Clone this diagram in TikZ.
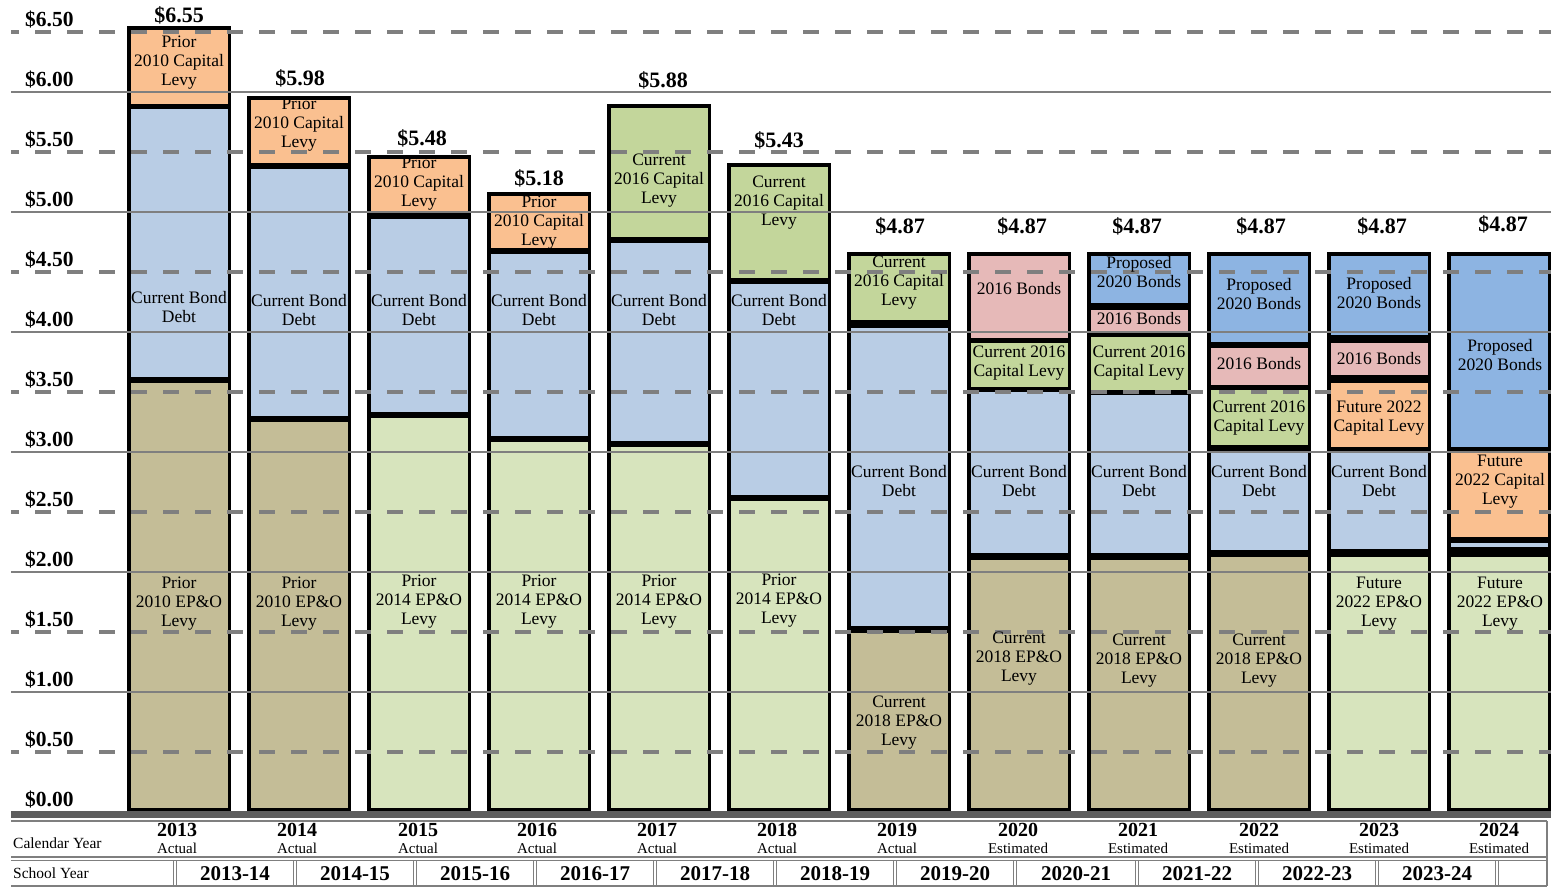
\documentclass[tikz,border=0pt]{standalone}
\usepackage{fontspec}
\setmainfont{Liberation Serif}
\definecolor{cOrange}{HTML}{FAC090}
\definecolor{cBlue}{HTML}{B9CDE5}
\definecolor{cTan}{HTML}{C4BD97}
\definecolor{cLGreen}{HTML}{D7E4BD}
\definecolor{cGreen}{HTML}{C3D69B}
\definecolor{cPink}{HTML}{E6B9B8}
\definecolor{cProp}{HTML}{8DB4E2}
\definecolor{cGrid}{HTML}{7F7F7F}
\definecolor{cBand}{HTML}{5E5E5E}
\tikzset{
  blab/.style={font=\fontsize{17.5}{19}\selectfont, align=center, inner sep=0pt},
  vlab/.style={font=\bfseries\fontsize{22}{24}\selectfont, anchor=base, inner sep=0pt},
  alab/.style={font=\bfseries\fontsize{21.5}{24}\selectfont, anchor=base west, inner sep=0pt},
  ylab/.style={font=\bfseries\fontsize{20}{24}\selectfont, anchor=base, inner sep=0pt},
  sylab/.style={font=\bfseries\fontsize{21}{24}\selectfont, anchor=base, inner sep=0pt},
  slab/.style={font=\fontsize{15}{18}\selectfont, anchor=base, inner sep=0pt},
  rlab/.style={font=\fontsize{15.5}{18}\selectfont, anchor=base west, inner sep=0pt},
  gridsolid/.style={draw=cGrid, line width=2.5pt},
  griddash/.style={draw=cGrid, line width=3.5pt, dash pattern=on 16pt off 16pt, dash phase=8pt},
  tline/.style={draw=cGrid, line width=1.3pt}
}
% segment fill: left, top, bottom, colour
\newcommand\sg[4]{\fill[#4] ({#1+1.75},#2) rectangle ({#1+102.25},#3);}
% divider: left, y, thickness
\newcommand\dv[3]{\fill[black] ({#1+1.75},{#2-#3/2}) rectangle ({#1+102.25},{#2+#3/2});}
% frame: left, top
\newcommand\fr[2]{\draw[line width=3.5pt] ({#1+1.75},{#2+1.75}) rectangle ({#1+102.25},809.5);}
% bar label: name, position, text
\newcommand\bl[3]{\node[blab] (#1) at #2 {\strut #3\strut};}
\begin{document}
\begin{tikzpicture}[x=1pt,y=-1pt]
\useasboundingbox (0,0) rectangle (1551,887);
\fill[white] (0,0) rectangle (1551,887);

% ---------- bars ----------
% bar 1
\sg{127}{26}{106}{cOrange}\sg{127}{106}{380}{cBlue}\sg{127}{380}{811}{cTan}
\dv{127}{106}{5}\dv{127}{380}{6}\fr{127}{26}
% bar 2
\sg{247}{96}{165}{cOrange}\sg{247}{165}{419}{cBlue}\sg{247}{419}{811}{cTan}
\dv{247}{165.5}{6}\dv{247}{419}{6}\fr{247}{96}
% bar 3
\sg{367}{155}{215}{cOrange}\sg{367}{215}{415}{cBlue}\sg{367}{415}{811}{cLGreen}
\dv{367}{215.5}{6}\dv{367}{415}{6}\fr{367}{155}
% bar 4
\sg{487}{192}{251}{cOrange}\sg{487}{251}{439}{cBlue}\sg{487}{439}{811}{cLGreen}
\dv{487}{251}{6}\dv{487}{439}{6}\fr{487}{192}
% bar 5
\sg{607}{104}{240}{cGreen}\sg{607}{240}{444}{cBlue}\sg{607}{444}{811}{cLGreen}
\dv{607}{240}{6}\dv{607}{444}{6}\fr{607}{104}
% bar 6
\sg{727}{163}{280}{cGreen}\sg{727}{280}{498}{cBlue}\sg{727}{498}{811}{cLGreen}
\dv{727}{280.5}{6}\dv{727}{498}{6}\fr{727}{163}
% bar 7
\sg{847}{252}{324}{cGreen}\sg{847}{324}{630}{cBlue}\sg{847}{630}{811}{cTan}
\dv{847}{324}{8}\dv{847}{629.5}{7}\fr{847}{252}
% bar 8
\sg{967}{252}{340}{cPink}\sg{967}{340}{390}{cGreen}\sg{967}{390}{556}{cBlue}\sg{967}{556}{811}{cTan}
\dv{967}{340}{5}\dv{967}{389.5}{5}\dv{967}{556.5}{7}\fr{967}{252}
% bar 9
\sg{1087}{252}{307}{cProp}\sg{1087}{307}{334}{cPink}\sg{1087}{334}{392}{cGreen}\sg{1087}{392}{556}{cBlue}\sg{1087}{556}{811}{cTan}
\dv{1087}{306.5}{7}\dv{1087}{334.5}{5}\dv{1087}{392}{5}\dv{1087}{556.5}{7}\fr{1087}{252}
% bar 10
\sg{1207}{252}{345}{cProp}\sg{1207}{345}{388}{cPink}\sg{1207}{388}{448}{cGreen}\sg{1207}{448}{553}{cBlue}\sg{1207}{553}{811}{cTan}
\dv{1207}{345}{6}\dv{1207}{387.5}{5}\dv{1207}{448.5}{7}\dv{1207}{553.5}{7}\fr{1207}{252}
% bar 11
\sg{1327}{252}{339}{cProp}\sg{1327}{339}{379}{cPink}\sg{1327}{379}{450}{cOrange}\sg{1327}{450}{553}{cBlue}\sg{1327}{553}{811}{cLGreen}
\dv{1327}{339}{8}\dv{1327}{379}{8}\dv{1327}{449.5}{5}\dv{1327}{553}{8}\fr{1327}{252}
% bar 12
\sg{1447}{252}{450}{cProp}\sg{1447}{450}{540}{cOrange}\sg{1447}{540}{552}{cBlue}\sg{1447}{552}{811}{cLGreen}
\dv{1447}{449.5}{5}\dv{1447}{540}{6}\dv{1447}{552}{10}\fr{1447}{252}

% ---------- grid ----------
\foreach \g in {92,212,332,452,572,692}{\draw[gridsolid] (11,\g) -- (1551,\g);}
\foreach \g in {32,152,272,392,512,632,752}{\draw[griddash] (11,\g) -- (1551,\g);}

% ---------- axis labels ----------
\node[alab] (a650) at (25,26) {\$6.50};
\node[alab] (a600) at (25,86) {\$6.00};
\node[alab] (a550) at (25,146) {\$5.50};
\node[alab] (a500) at (25,206) {\$5.00};
\node[alab] (a450) at (25,266) {\$4.50};
\node[alab] (a400) at (25,326) {\$4.00};
\node[alab] (a350) at (25,386) {\$3.50};
\node[alab] (a300) at (25,446) {\$3.00};
\node[alab] (a250) at (25,506) {\$2.50};
\node[alab] (a200) at (25,566) {\$2.00};
\node[alab] (a150) at (25,626) {\$1.50};
\node[alab] (a100) at (25,686) {\$1.00};
\node[alab] (a050) at (25,746) {\$0.50};
\node[alab] (a000) at (25,806) {\$0.00};

% ---------- value labels ----------
\node[vlab] (v1) at (179,22) {\$6.55};
\node[vlab] (v2) at (300,85) {\$5.98};
\node[vlab] (v3) at (422,145) {\$5.48};
\node[vlab] (v4) at (539,185) {\$5.18};
\node[vlab] (v5) at (663,87) {\$5.88};
\node[vlab] (v6) at (779,147) {\$5.43};
\node[vlab] (v7) at (900,233) {\$4.87};
\node[vlab] (v8) at (1022,233) {\$4.87};
\node[vlab] (v9) at (1137,233) {\$4.87};
\node[vlab] (v10) at (1261,233) {\$4.87};
\node[vlab] (v11) at (1382,233) {\$4.87};
\node[vlab] (v12) at (1503,231) {\$4.87};

% ---------- bar labels ----------
\bl{b1c}{(179,63)}{Prior\\2010 Capital\\Levy}
\bl{b1d}{(179,309)}{Current Bond\\Debt}
\bl{b1e}{(179,604)}{Prior\\2010 EP\&O\\Levy}
\bl{b2c}{(299,125)}{Prior\\2010 Capital\\Levy}
\bl{b2d}{(299,312)}{Current Bond\\Debt}
\bl{b2e}{(299,604)}{Prior\\2010 EP\&O\\Levy}
\bl{b3c}{(419,184)}{Prior\\2010 Capital\\Levy}
\bl{b3d}{(419,312)}{Current Bond\\Debt}
\bl{b3e}{(419,602)}{Prior\\2014 EP\&O\\Levy}
\bl{b4c}{(539,223)}{Prior\\2010 Capital\\Levy}
\bl{b4d}{(539,312)}{Current Bond\\Debt}
\bl{b4e}{(539,602)}{Prior\\2014 EP\&O\\Levy}
\bl{b5c}{(659,181)}{Current\\2016 Capital\\Levy}
\bl{b5d}{(659,312)}{Current Bond\\Debt}
\bl{b5e}{(659,602)}{Prior\\2014 EP\&O\\Levy}
\bl{b6c}{(779,203)}{Current\\2016 Capital\\Levy}
\bl{b6d}{(779,312)}{Current Bond\\Debt}
\bl{b6e}{(779,601)}{Prior\\2014 EP\&O\\Levy}
\bl{b7c}{(899,283)}{Current\\2016 Capital\\Levy}
\bl{b7d}{(899,483)}{Current Bond\\Debt}
\bl{b7e}{(899,723)}{Current\\2018 EP\&O\\Levy}
\bl{b8b}{(1019,291)}{2016 Bonds}
\bl{b8c}{(1019,363)}{Current 2016\\Capital Levy}
\bl{b8d}{(1019,483)}{Current Bond\\Debt}
\bl{b8e}{(1019,659)}{Current\\2018 EP\&O\\Levy}
\bl{b9p}{(1139,274)}{Proposed\\2020 Bonds}
\bl{b9b}{(1139,321)}{2016 Bonds}
\bl{b9c}{(1139,363)}{Current 2016\\Capital Levy}
\bl{b9d}{(1139,483)}{Current Bond\\Debt}
\bl{b9e}{(1139,661)}{Current\\2018 EP\&O\\Levy}
\bl{b10p}{(1259,296)}{Proposed\\2020 Bonds}
\bl{b10b}{(1259,366)}{2016 Bonds}
\bl{b10c}{(1259,418)}{Current 2016\\Capital Levy}
\bl{b10d}{(1259,483)}{Current Bond\\Debt}
\bl{b10e}{(1259,661)}{Current\\2018 EP\&O\\Levy}
\bl{b11p}{(1379,295)}{Proposed\\2020 Bonds}
\bl{b11b}{(1379,361)}{2016 Bonds}
\bl{b11c}{(1379,418)}{Future 2022\\Capital Levy}
\bl{b11d}{(1379,483)}{Current Bond\\Debt}
\bl{b11e}{(1379,604)}{Future\\2022 EP\&O\\Levy}
\bl{b12p}{(1500,357)}{Proposed\\2020 Bonds}
\bl{b12c}{(1500,482)}{Future\\2022 Capital\\Levy}
\bl{b12e}{(1500,604)}{Future\\2022 EP\&O\\Levy}

% ---------- table ----------
\fill[cBand] (11,811) rectangle (1551,818);
\draw[tline, line width=1.6pt] (11,821) -- (1547,821);
\draw[tline] (11,857) -- (1547,857);
\draw[tline] (11,860.5) -- (1547,860.5);
\draw[tline] (11,886) -- (1547,886);
\draw[tline] (1547,821) -- (1547,886);
\foreach \s in {175,295,415,535,655,775,895,1015,1137,1257,1377,1497}{
  \draw[tline, line width=1pt] ({\s-1.8},861) -- ({\s-1.8},886) ({\s+1.8},861) -- ({\s+1.8},886);
}
\node[rlab] (lcal) at (13,848) {Calendar Year};
\node[rlab] (lsch) at (13,878) {School Year};

\node[ylab] (c1) at (177,836) {2013};
\node[ylab] (c2) at (297,836) {2014};
\node[ylab] (c3) at (418,836) {2015};
\node[ylab] (c4) at (537,836) {2016};
\node[ylab] (c5) at (657,836) {2017};
\node[ylab] (c6) at (777,836) {2018};
\node[ylab] (c7) at (897,836) {2019};
\node[ylab] (c8) at (1018,836) {2020};
\node[ylab] (c9) at (1138,836) {2021};
\node[ylab] (c10) at (1259,836) {2022};
\node[ylab] (c11) at (1379,836) {2023};
\node[ylab] (c12) at (1499,836) {2024};
\node[slab] (e1) at (177,853) {Actual};
\node[slab] (e2) at (297,853) {Actual};
\node[slab] (e3) at (418,853) {Actual};
\node[slab] (e4) at (537,853) {Actual};
\node[slab] (e5) at (657,853) {Actual};
\node[slab] (e6) at (777,853) {Actual};
\node[slab] (e7) at (897,853) {Actual};
\node[slab] (e8) at (1018,853) {Estimated};
\node[slab] (e9) at (1138,853) {Estimated};
\node[slab] (e10) at (1259,853) {Estimated};
\node[slab] (e11) at (1379,853) {Estimated};
\node[slab] (e12) at (1499,853) {Estimated};

\node[sylab] (s1) at (235,880) {2013-14};
\node[sylab] (s2) at (355,880) {2014-15};
\node[sylab] (s3) at (475,880) {2015-16};
\node[sylab] (s4) at (595,880) {2016-17};
\node[sylab] (s5) at (715,880) {2017-18};
\node[sylab] (s6) at (835,880) {2018-19};
\node[sylab] (s7) at (955,880) {2019-20};
\node[sylab] (s8) at (1076,880) {2020-21};
\node[sylab] (s9) at (1197,880) {2021-22};
\node[sylab] (s10) at (1317,880) {2022-23};
\node[sylab] (s11) at (1437,880) {2023-24};
\end{tikzpicture}
\end{document}
